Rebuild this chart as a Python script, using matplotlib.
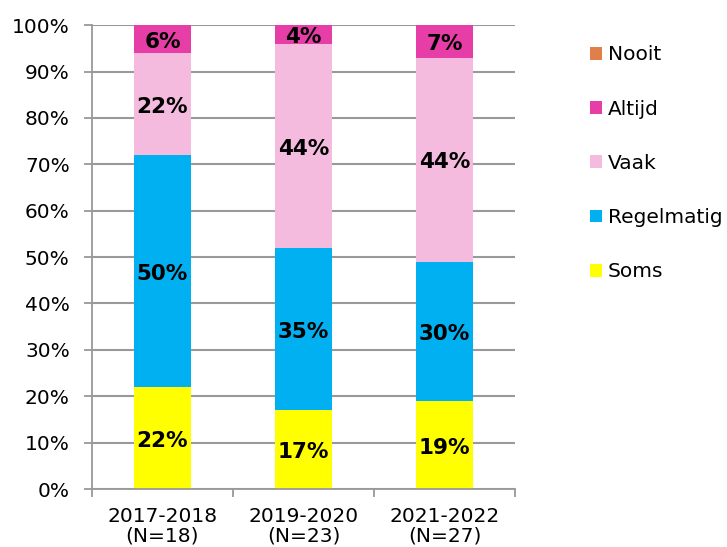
import matplotlib
matplotlib.use("Agg")
import matplotlib.pyplot as plt
import numpy as np

categories = ["2017-2018\n(N=18)", "2019-2020\n(N=23)", "2021-2022\n(N=27)"]
soms = [22, 17, 19]
regelmatig = [50, 35, 30]
vaak = [22, 44, 44]
altijd = [6, 4, 7]
nooit = [0, 0, 0]

series = [("Soms", soms, "#FFFF00"),
          ("Regelmatig", regelmatig, "#00B0F0"),
          ("Vaak", vaak, "#F5BBDF"),
          ("Altijd", altijd, "#E63DA6"),
          ("Nooit", nooit, "#E07F4A")]

plt.rcParams['font.family'] = ['DejaVu Sans']
fig = plt.figure(figsize=(7.27, 5.47), dpi=100)
ax = fig.add_axes([0.1265, 0.106, 0.582, 0.848])

x = np.arange(len(categories))
bottom = np.zeros(len(categories))
handles = []
for name, vals, col in series:
    vals = np.array(vals, dtype=float)
    b = ax.bar(x, vals, width=0.4, bottom=bottom, color=col, zorder=2, label=name)
    handles.append(b)
    for xi, v, bt in zip(x, vals, bottom):
        if v > 0:
            ax.text(xi, bt + v / 2 - 0.6, f"{int(v)}%", ha="center", va="center",
                    fontsize=15.5, fontweight="bold", color="black", zorder=3)
    bottom += vals

ax.set_xlim(-0.5, 2.5)
ax.set_ylim(0, 100)
ax.set_yticks(np.arange(0, 101, 10))
ax.set_yticklabels([f"{v}%" for v in range(0, 101, 10)], fontsize=14.5)
ax.set_xticks(x)
ax.set_xticklabels(categories, fontsize=14.5, linespacing=1.0)
ax.tick_params(axis="x", length=0, pad=13)
ax.set_xticks([-0.5, 0.5, 1.5, 2.5], minor=True)
ax.tick_params(axis="x", which="minor", length=6, color="#999999", width=1.3)
ax.tick_params(axis="y", length=6, color="#999999", width=1.3, pad=10)
ax.yaxis.grid(True, color="#999999", linewidth=1.5, zorder=0)
ax.set_axisbelow(True)
for s in ["top", "right"]:
    ax.spines[s].set_visible(False)
for s in ["left", "bottom"]:
    ax.spines[s].set_color("#999999")
    ax.spines[s].set_linewidth(1.3)

leg = fig.legend(handles[::-1], [s[0] for s in series][::-1],
                 loc="upper left", bbox_to_anchor=(0.786, 0.95),
                 frameon=False, fontsize=14.5, handlelength=0.6, handleheight=0.6,
                 handletextpad=0.3, labelspacing=1.75)

fig.savefig("out.png", dpi=100)
